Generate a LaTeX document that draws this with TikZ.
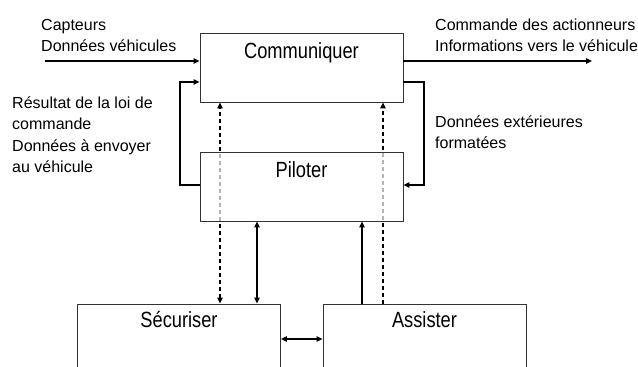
\documentclass[tikz,border=0pt]{standalone}
\usepackage{fontspec}
\usepackage{graphicx}
\setmainfont{Liberation Sans}
\usetikzlibrary{arrows.meta,calc}
\pgfdeclarelayer{paper}
\pgfdeclarelayer{under}
\pgfsetlayers{paper,under,main}

\newcommand{\boxtitle}[1]{\scalebox{0.83}[1]{#1}}
\newcommand{\lines}[1]{\begin{tabular}[t]{@{}l@{}}#1\end{tabular}}

\begin{document}
\begin{tikzpicture}[x=1pt,y=-1pt,
  block/.style={draw=black!80, line width=0.9pt, minimum width=203pt,
                minimum height=69pt, inner sep=0pt},
  title/.style={anchor=base, inner sep=0pt, font=\fontsize{22}{26}\selectfont},
  note/.style={anchor=base west, inner sep=0pt, font=\fontsize{16}{21.5}\selectfont},
  flow/.style={line width=1.1pt, -{Triangle[length=6pt,width=5.5pt]}},
  twoway/.style={line width=1.1pt, {Triangle[length=6pt,width=5.5pt]}-{Triangle[length=6pt,width=5.5pt]}},
  dashflow/.style={flow, dash pattern=on 4pt off 3pt},
]
\useasboundingbox (0,0) rectangle (638,367);
\begin{pgfonlayer}{paper}
  \fill[white] (0,0) rectangle (638,367);
\end{pgfonlayer}
\clip (0,0) rectangle (638,367);

% function blocks
\node[block] (com) at (301.5,67.5) {};
\node[block, fill=white, fill opacity=0.7, text opacity=1] (pil) at (301.5,186.5) {};
\node[block] (sec) at (179,338.5) {};
\node[block] (ass) at (424.5,338.5) {};

\node[title] (comT) at ($(com.north)+(0,26)$) {\boxtitle{Communiquer}};
\node[title] (pilT) at ($(pil.north)+(0,26)$) {\boxtitle{Piloter}};
\node[title] (secT) at ($(sec.north)+(0,24)$) {\boxtitle{Sécuriser}};
\node[title] (assT) at ($(ass.north)+(0,24)$) {\boxtitle{Assister}};

% flow labels
\node[note] (inTxt) at (41,30) {\lines{Capteurs\\Données véhicules}};
\node[note] (outTxt) at (435,30) {\lines{Commande des actionneurs\\Informations vers le véhicule}};
\node[note] (loopL) at (12,108) {\lines{Résultat de la loi de\\commande\\Données à envoyer\\au véhicule}};
\node[note] (loopR) at (435,127) {\lines{Données extérieures\\formatées}};

% free ends and bends
\coordinate (inEnd) at (45,61);
\coordinate (outEnd) at (592,61);
\coordinate (lBot) at (180,185);
\coordinate (lTop) at (180,82);
\coordinate (rTop) at (424,82);
\coordinate (rBot) at (424,185);
\coordinate (xD1) at (220,0);
\coordinate (xS1) at (257,0);
\coordinate (xS2) at (362,0);
\coordinate (xD2) at (383,0);
\coordinate (yH) at (0,339);

% external flows
\draw[flow] (inEnd) -- (inEnd -| com.west);
\draw[flow] (outEnd -| com.east) -- (outEnd);

% loops between Communiquer and Piloter
\draw[flow] (lBot -| pil.west) -- (lBot) -- (lTop) -- (lTop -| com.west);
\draw[flow] (rTop -| com.east) -- (rTop) -- (rBot) -- (rBot -| pil.east);

% dashed links running behind Piloter
\begin{pgfonlayer}{under}
  \draw[dashflow, {Triangle[length=6pt,width=5.5pt]}-{Triangle[length=6pt,width=5.5pt]}]
    (sec.north -| xD1) -- (com.south -| xD1);
  \draw[dashflow] (ass.north -| xD2) -- (com.south -| xD2);
\end{pgfonlayer}

% solid links to Piloter
\draw[twoway] (sec.north -| xS1) -- (pil.south -| xS1);
\draw[flow] (ass.north -| xS2) -- (pil.south -| xS2);

% Sécuriser <-> Assister
\draw[twoway] (sec.east |- yH) -- (ass.west |- yH);
\end{tikzpicture}
\end{document}
